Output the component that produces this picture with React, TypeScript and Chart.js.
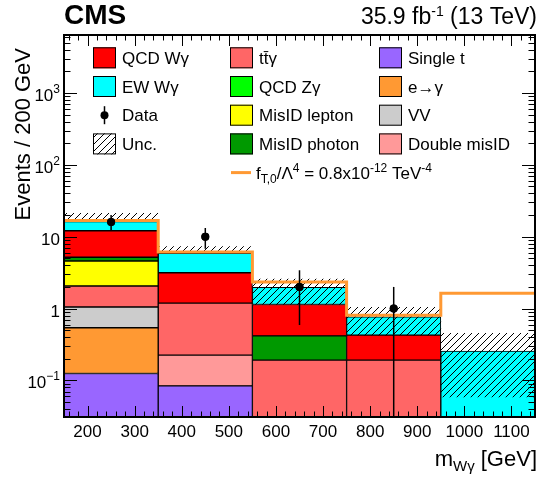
import React, { useEffect, useRef } from 'react';
import { Chart, registerables } from 'chart.js';

Chart.register(...registerables);

// ---------------- data ----------------
const binEdges = [150, 350, 550, 750, 950, 1150];
const binCenters = [250, 450, 650, 850, 1050];

// stacked components, bottom to top (events / bin)
const singleT = [0.125, 0.084, 0, 0, 0];
const eToGamma = [0.416, 0, 0, 0, 0];
const vvBkg = [0.509, 0, 0, 0, 0];
const doubleMisID = [0, 0.141, 0, 0, 0];
const ttGamma = [1.01, 0.965, 0.192, 0.192, 0];
const misIDLepton = [2.53, 0, 0, 0, 0];
const misIDPhoton = [0.58, 0, 0.226, 0, 0];
const qcdZGamma = [0, 0, 0, 0, 0];
const qcdWGamma = [6.93, 1.96, 0.722, 0.236, 0];
const ewWGamma = [4.1, 2.72, 0.83, 0.341, 0.256];

// uncertainty band
const uncLow = [16.2, 5.87, 1.14, 0.428, 0.059];
const uncHigh = [21.2, 7.26, 2.58, 1.04, 0.451];

// data points
const dataCenters = [250, 450, 650, 850];
const dataValues = [16, 10, 2, 1];
const dataErrLow = [4, 3.2, 1.41, 1];
const dataErrHigh = [4, 3.2, 1.41, 1];

// aTGC signal line
const signalValues = [16.8, 6.1, 2.35, 0.81, 1.63];

// axis
const xMin = 150;
const xMax = 1150;
const yMin = 0.031;
const yMax = 6400;
const xTickLabels = ['200', '300', '400', '500', '600', '700', '800', '900', '1000', '1100'];
const yLabelDecades = [-1, 0, 1, 2, 3];

const FONT = "'Liberation Sans', Arial, Helvetica, sans-serif";

const components = [
  { label: 'Single t', values: singleT, color: '#9966ff' },
  { label: 'e\u2192\u03b3', values: eToGamma, color: '#ff9933' },
  { label: 'VV', values: vvBkg, color: '#cccccc' },
  { label: 'Double misID', values: doubleMisID, color: '#ff9999' },
  { label: 'tt\u0304\u03b3', values: ttGamma, color: '#ff6666' },
  { label: 'MisID lepton', values: misIDLepton, color: '#ffff00' },
  { label: 'MisID photon', values: misIDPhoton, color: '#009900' },
  { label: 'QCD Z\u03b3', values: qcdZGamma, color: '#00ff00' },
  { label: 'QCD W\u03b3', values: qcdWGamma, color: '#ff0000' },
  { label: 'EW W\u03b3', values: ewWGamma, color: '#00ffff' },
];

type Seg = { t: string; s: number; dy?: number; b?: boolean };

function segFont(seg: Seg) {
  return `${seg.b ? 'bold ' : ''}${seg.s}px ${FONT}`;
}

function drawSegs(ctx: CanvasRenderingContext2D, segs: Seg[], x: number, y: number, align: 'left' | 'right' | 'center') {
  let w = 0;
  for (const s of segs) {
    ctx.font = segFont(s);
    w += ctx.measureText(s.t).width;
  }
  let cx = align === 'left' ? x : align === 'right' ? x - w : x - w / 2;
  ctx.textAlign = 'left';
  ctx.textBaseline = 'alphabetic';
  for (const s of segs) {
    ctx.font = segFont(s);
    ctx.fillText(s.t, cx, y + (s.dy || 0));
    cx += ctx.measureText(s.t).width;
  }
}

function makeHatch(): CanvasPattern | string {
  const c = document.createElement('canvas');
  const n = 7;
  c.width = n;
  c.height = n;
  const g = c.getContext('2d');
  if (!g) return 'rgba(0,0,0,0.3)';
  g.strokeStyle = '#000';
  g.lineWidth = 1;
  g.beginPath();
  g.moveTo(0, n);
  g.lineTo(n, 0);
  g.moveTo(-1, 1);
  g.lineTo(1, -1);
  g.moveTo(n - 1, n + 1);
  g.lineTo(n + 1, n - 1);
  g.stroke();
  const p = g.createPattern(c, 'repeat');
  return p || 'rgba(0,0,0,0.3)';
}

export default function App() {
  const ref = useRef<HTMLCanvasElement | null>(null);

  useEffect(() => {
    const canvas = ref.current;
    if (!canvas) return;
    const hatch = makeHatch();

    // build stacked floating bars
    const cum = binCenters.map(() => 1e-4);
    const barSets: any[] = [];
    for (const comp of components) {
      const pts: any[] = [];
      comp.values.forEach((v, i) => {
        if (v > 0) {
          const lo = cum[i];
          const hi = (lo <= 1e-4 ? 0 : lo) + v;
          pts.push({ x: binCenters[i], y: [lo, hi] });
          cum[i] = hi;
        }
      });
      barSets.push({
        type: 'bar',
        label: comp.label,
        data: pts,
        backgroundColor: comp.color,
        borderColor: '#000',
        borderWidth: 1,
        borderSkipped: false,
        grouped: false,
        barPercentage: 1,
        categoryPercentage: 1,
        order: 10,
      });
    }

    const uncSet = {
      type: 'bar',
      label: 'Unc.',
      data: binCenters.map((c, i) => ({ x: c, y: [uncLow[i], uncHigh[i]] })),
      backgroundColor: hatch,
      borderWidth: 0,
      grouped: false,
      barPercentage: 1,
      categoryPercentage: 1,
      order: 5,
    };

    const signalSet = {
      type: 'line',
      label: 'signal',
      data: binEdges.map((e, i) => ({ x: e, y: signalValues[Math.min(i, signalValues.length - 1)] })),
      borderColor: '#ff9933',
      borderWidth: 3,
      pointRadius: 0,
      stepped: true,
      fill: false,
      order: 2,
    };

    const dataSet = {
      type: 'line',
      label: 'Data',
      data: dataCenters.map((c, i) => ({ x: c, y: dataValues[i] })),
      showLine: false,
      pointRadius: 4,
      pointBackgroundColor: '#000',
      pointBorderWidth: 0,
      order: 0,
    };

    const decor = {
      id: 'cmsDecor',
      afterDatasetsDraw(chart: any) {
        const ctx: CanvasRenderingContext2D = chart.ctx;
        const xs = chart.scales.x;
        const ys = chart.scales.y;
        const a = chart.chartArea;
        ctx.save();
        ctx.beginPath();
        ctx.rect(a.left, a.top, a.right - a.left, a.bottom - a.top);
        ctx.clip();
        ctx.strokeStyle = '#000';
        ctx.lineWidth = 1.5;
        dataCenters.forEach((c, i) => {
          const px = xs.getPixelForValue(c);
          const lo = dataValues[i] - dataErrLow[i];
          const yLo = lo > 0 ? ys.getPixelForValue(lo) : a.bottom + 5;
          const yHi = ys.getPixelForValue(dataValues[i] + dataErrHigh[i]);
          ctx.beginPath();
          ctx.moveTo(px, yLo);
          ctx.lineTo(px, yHi);
          ctx.stroke();
          ctx.beginPath();
          ctx.arc(px, ys.getPixelForValue(dataValues[i]), 4, 0, Math.PI * 2);
          ctx.fillStyle = '#000';
          ctx.fill();
        });
        ctx.restore();
      },
      afterDraw(chart: any) {
        const ctx: CanvasRenderingContext2D = chart.ctx;
        const xs = chart.scales.x;
        const ys = chart.scales.y;
        const a = chart.chartArea;
        ctx.save();
        ctx.fillStyle = '#000';
        ctx.strokeStyle = '#000';

        // ticks
        ctx.lineWidth = 1;
        ctx.beginPath();
        for (let v = Math.ceil(xMin / 20) * 20; v < xMax; v += 20) {
          if (v <= xMin) continue;
          const px = Math.round(xs.getPixelForValue(v)) + 0.5;
          const len = v % 100 === 0 ? 11 : 5.5;
          ctx.moveTo(px, a.bottom);
          ctx.lineTo(px, a.bottom - len);
          ctx.moveTo(px, a.top);
          ctx.lineTo(px, a.top + len);
        }
        for (let d = -2; d <= 4; d++) {
          for (let m = 1; m <= 9; m++) {
            const v = m * Math.pow(10, d);
            if (v <= yMin || v >= yMax) continue;
            const py = Math.round(ys.getPixelForValue(v)) + 0.5;
            const len = m === 1 ? 13 : 6.5;
            ctx.moveTo(a.left, py);
            ctx.lineTo(a.left + len, py);
            ctx.moveTo(a.right, py);
            ctx.lineTo(a.right - len, py);
          }
        }
        ctx.stroke();

        // frame
        ctx.lineWidth = 2;
        ctx.strokeRect(a.left, a.top, a.right - a.left, a.bottom - a.top);

        // x tick labels
        xTickLabels.forEach((lab) => {
          const px = xs.getPixelForValue(Number(lab));
          drawSegs(ctx, [{ t: lab, s: 17 }], px, 437, 'center');
        });
        // y tick labels
        yLabelDecades.forEach((d) => {
          const py = ys.getPixelForValue(Math.pow(10, d));
          let segs: Seg[];
          if (d === 0) segs = [{ t: '1', s: 17 }];
          else if (d === 1) segs = [{ t: '10', s: 17 }];
          else segs = [{ t: '10', s: 17 }, { t: d < 0 ? '\u2212' + Math.abs(d) : String(d), s: 12, dy: -8 }];
          drawSegs(ctx, segs, 60, py + 8, 'right');
        });

        // axis titles
        drawSegs(ctx, [{ t: 'm', s: 22 }, { t: 'W\u03b3', s: 15, dy: 5 }, { t: ' [GeV]', s: 22 }], 537, 466, 'right');
        ctx.save();
        ctx.translate(30, 48);
        ctx.rotate(-Math.PI / 2);
        drawSegs(ctx, [{ t: 'Events / 200 GeV', s: 22 }], 0, 0, 'right');
        ctx.restore();

        // header
        drawSegs(ctx, [{ t: 'CMS', s: 28, b: true }], 64, 24, 'left');
        drawSegs(ctx, [{ t: '35.9 fb', s: 23 }, { t: '-1', s: 14, dy: -8 }, { t: ' (13 TeV)', s: 23 }], 537, 23.5, 'right');

        // legend
        const rowY = (r: number) => 57.8 + 28.7 * r;
        const box = (x: number, r: number, fill: any) => {
          const cy = rowY(r);
          ctx.fillStyle = fill;
          ctx.fillRect(x, cy - 10.5, 23, 21);
          ctx.lineWidth = 1;
          ctx.strokeStyle = '#000';
          ctx.strokeRect(x + 0.5, cy - 10, 22, 20);
          ctx.fillStyle = '#000';
        };
        const text = (x: number, r: number, t: string) => {
          ctx.fillStyle = '#000';
          drawSegs(ctx, [{ t, s: 17 }], x, rowY(r) + 6, 'left');
        };
        const byLabel = (l: string) => components.find((c) => c.label === l)!;
        const col1 = 93, col1t = 122, col2 = 230, col2t = 259, col3 = 379, col3t = 408;
        box(col1, 0, byLabel('QCD W\u03b3').color); text(col1t, 0, 'QCD W\u03b3');
        box(col1, 1, byLabel('EW W\u03b3').color); text(col1t, 1, 'EW W\u03b3');
        // data marker
        ctx.lineWidth = 1.5;
        ctx.beginPath();
        ctx.moveTo(col1 + 11.5, rowY(2) - 9);
        ctx.lineTo(col1 + 11.5, rowY(2) + 9);
        ctx.stroke();
        ctx.beginPath();
        ctx.arc(col1 + 11.5, rowY(2), 4, 0, Math.PI * 2);
        ctx.fill();
        text(col1t, 2, 'Data');
        box(col1, 3, hatch); text(col1t, 3, 'Unc.');

        box(col2, 0, byLabel('tt\u0304\u03b3').color); text(col2t, 0, 'tt\u0304\u03b3');
        box(col2, 1, byLabel('QCD Z\u03b3').color); text(col2t, 1, 'QCD Z\u03b3');
        box(col2, 2, byLabel('MisID lepton').color); text(col2t, 2, 'MisID lepton');
        box(col2, 3, byLabel('MisID photon').color); text(col2t, 3, 'MisID photon');
        ctx.strokeStyle = '#ff9933';
        ctx.lineWidth = 3;
        ctx.beginPath();
        ctx.moveTo(col2 + 1, rowY(4));
        ctx.lineTo(col2 + 21, rowY(4));
        ctx.stroke();
        ctx.fillStyle = '#000';
        drawSegs(ctx, [
          { t: 'f', s: 17 },
          { t: 'T,0', s: 12, dy: 4 },
          { t: '/\u039b', s: 17 },
          { t: '4', s: 12, dy: -7 },
          { t: ' = 0.8x10', s: 17 },
          { t: '-12', s: 12, dy: -7 },
          { t: ' TeV', s: 17 },
          { t: '-4', s: 12, dy: -7 },
        ], col2 + 26, rowY(4) + 6, 'left');

        box(col3, 0, byLabel('Single t').color); text(col3t, 0, 'Single t');
        box(col3, 1, byLabel('e\u2192\u03b3').color); text(col3t, 1, 'e\u2192\u03b3');
        box(col3, 2, byLabel('VV').color); text(col3t, 2, 'VV');
        box(col3, 3, byLabel('Double misID').color); text(col3t, 3, 'Double misID');

        ctx.restore();
      },
    };

    const chart = new Chart(canvas, {
      type: 'bar',
      data: { datasets: [...barSets, uncSet, signalSet, dataSet] as any },
      options: {
        responsive: false,
        animation: false,
        devicePixelRatio: 1,
        layout: { padding: { left: 64, right: 1, top: 35, bottom: 66 } },
        plugins: { legend: { display: false }, tooltip: { enabled: false } },
        events: [],
        scales: {
          x: {
            type: 'linear',
            min: xMin,
            max: xMax,
            offset: false,
            display: false,
            afterBuildTicks: (scale: any) => {
              scale.ticks = [{ value: xMin }, { value: xMax }];
            },
          },
          y: {
            type: 'logarithmic',
            min: yMin,
            max: yMax,
            display: false,
          },
        },
      } as any,
      plugins: [decor],
    });
    return () => chart.destroy();
  }, []);

  return (
    <div style={{ position: 'absolute', left: 0, top: 0, width: 539, height: 483, background: '#fff' }}>
      <canvas ref={ref} width={539} height={483} style={{ display: 'block' }} />
    </div>
  );
}
